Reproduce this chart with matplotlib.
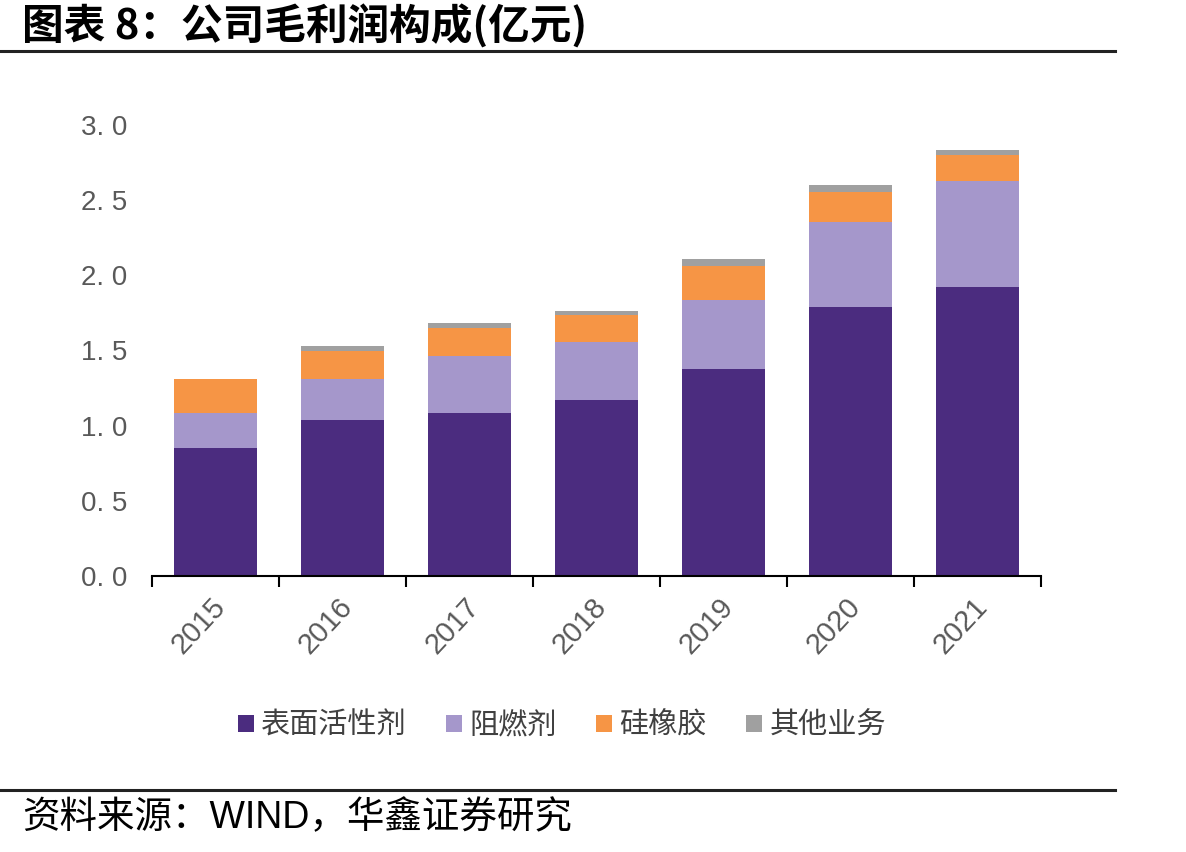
import numpy as np
import matplotlib
matplotlib.use("Agg")
import matplotlib.pyplot as plt
from matplotlib.lines import Line2D
from matplotlib.patches import Patch
from matplotlib.ticker import FuncFormatter
import matplotlib.transforms as mtransforms

years = ["2015", "2016", "2017", "2018", "2019", "2020", "2021"]
series_names = ["表面活性剂", "阻燃剂", "硅橡胶", "其他业务"]
surfactant = [0.850, 1.040, 1.087, 1.169, 1.379, 1.792, 1.921]
flame_retardant = [0.232, 0.269, 0.375, 0.386, 0.459, 0.565, 0.705]
silicone_rubber = [0.227, 0.190, 0.190, 0.180, 0.227, 0.200, 0.175]
other = [0.000, 0.031, 0.033, 0.030, 0.042, 0.044, 0.033]
colors = ["#4B2C7F", "#A597CB", "#F69545", "#A0A0A0"]

plt.rcParams['font.family'] = ['Liberation Sans', 'Noto Sans CJK SC', 'DejaVu Sans']

fig = plt.figure(figsize=(11.86, 8.52), dpi=100)
ax = fig.add_axes([152/1186, 1-576/852, 889/1186, 451/852])

x = np.arange(len(years))
bottom = np.zeros(len(years))
for vals, c, name in zip([surfactant, flame_retardant, silicone_rubber, other], colors, series_names):
    v = np.array(vals)
    ax.bar(x, v, width=0.65, bottom=bottom, color=c, label=name, linewidth=0)
    bottom += v

ax.set_xlim(-0.5, len(years) - 0.5)
ax.set_ylim(0, 3.0)
ax.set_yticks(np.arange(0, 3.01, 0.5))
ax.yaxis.set_major_formatter(FuncFormatter(lambda v, p: f"{v:.1f}".replace('.', '. ')))
ax.tick_params(axis='y', length=0, pad=18, labelsize=20, labelcolor='#595959')
for s in ['top', 'right', 'left']:
    ax.spines[s].set_visible(False)
ax.spines['bottom'].set_color('black')
ax.spines['bottom'].set_linewidth(1.5)

ax.set_xticks(x)
ax.set_xticklabels(years, rotation=47, ha='right', rotation_mode='anchor')
ax.set_xticks(np.arange(-0.5, len(years), 1), minor=True)
ax.tick_params(axis='x', which='major', length=0, pad=12, labelsize=21, labelcolor='#595959')
ax.tick_params(axis='x', which='minor', length=8, width=1.5, direction='out', color='black')
offset = mtransforms.ScaledTranslation(-5/100, 0, fig.dpi_scale_trans)
for lbl in ax.get_xticklabels():
    lbl.set_transform(lbl.get_transform() + offset)
    lbl.set_fontstretch('condensed')

handles = [Patch(facecolor=c, edgecolor='none') for c in colors]
leg = fig.legend(handles, series_names, loc='center', bbox_to_anchor=(562/1186, 1-726/852),
                 ncol=4, frameon=False, handlelength=0.55, handleheight=0.55, handletextpad=0.25,
                 columnspacing=1.35,
                 prop={'family': ['Noto Sans CJK SC'], 'size': 21})
for t in leg.get_texts():
    t.set_color('#404040')

fig.text(22/1186, 1-27/852, "图表 8：公司毛利润构成(亿元)", fontsize=30, fontweight='bold',
         family=['Noto Sans CJK SC'], va='center', ha='left', color='black')
fig.add_artist(Line2D([0, 1115/1186], [1-51/852, 1-51/852], color='#222222', linewidth=2.2))
fig.add_artist(Line2D([0, 1115/1186], [1-790/852, 1-790/852], color='#222222', linewidth=2.2))
fig.text(22/1186, 1-818/852, "资料来源：WIND，华鑫证券研究", fontsize=27,
         family=['Liberation Sans', 'Noto Sans CJK SC'], va='center', ha='left', color='black')

fig.savefig("out.png", dpi=100, facecolor='white')
